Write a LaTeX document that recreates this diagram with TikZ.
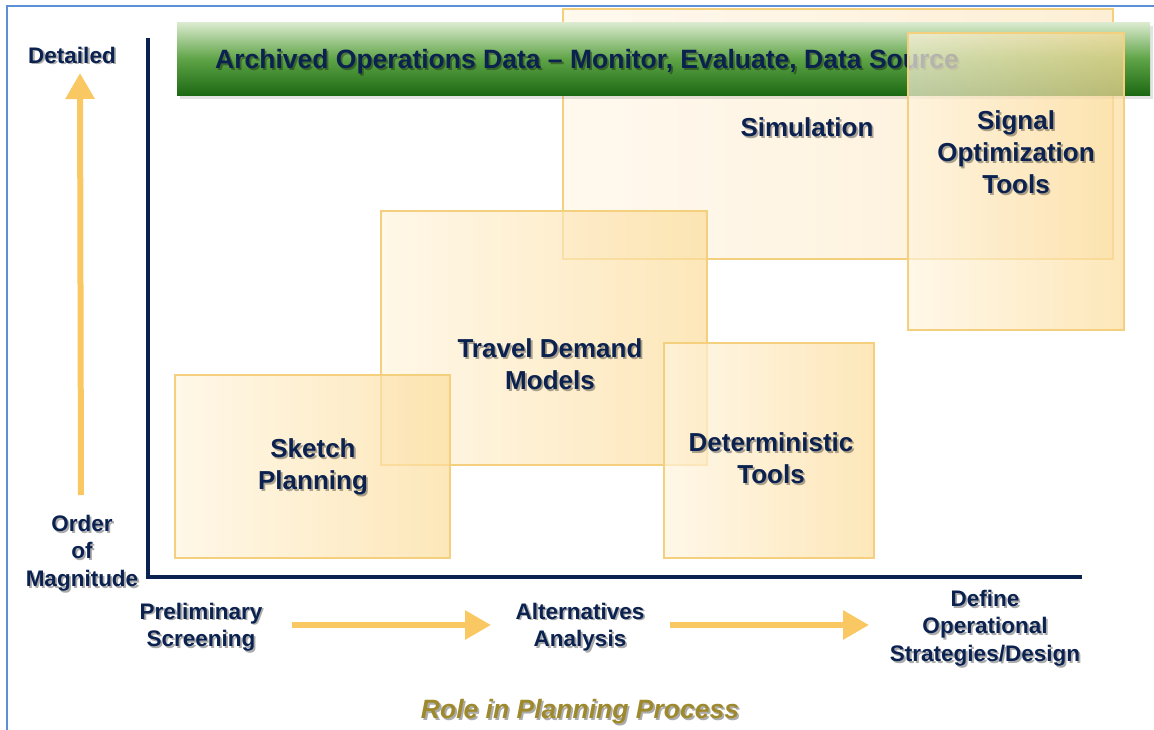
\documentclass[tikz,border=0pt]{standalone}
\usepackage{fontspec}
\setmainfont{Liberation Sans}
\usetikzlibrary{arrows.meta,shadows,calc}
\definecolor{navy}{HTML}{0B2250}
\definecolor{frameblue}{HTML}{5B8FD6}
\definecolor{arrowyel}{HTML}{F9C862}
\definecolor{boxedge}{HTML}{F3CF7E}
\definecolor{olive}{HTML}{9E8A2C}
\definecolor{gtop}{HTML}{DCEBD0}
\definecolor{gmid}{HTML}{5FA447}
\definecolor{gbot}{HTML}{1C6913}
\definecolor{boxlight}{HTML}{FFF4DE}
\definecolor{boxyel}{HTML}{FCDD9C}
\definecolor{boxpale}{HTML}{FFF7EA}
\definecolor{boxpale2}{HTML}{FDEBCB}
\tikzset{
  x=1pt, y=-1pt,
  lbl/.style={font=\bfseries\fontsize{26}{32}\selectfont, text=navy, align=center, inner sep=0pt},
  axlbl/.style={font=\bfseries\fontsize{22.5}{27.5}\selectfont, text=navy, align=center, inner sep=0pt},
  bannerlbl/.style={font=\bfseries\fontsize{26.5}{30}\selectfont, text=navy, anchor=west, inner sep=0pt},
  rolelbl/.style={font=\bfseries\itshape\fontsize{26.5}{30}\selectfont, text=olive, inner sep=0pt},
  shadowtext/.style={text=black, opacity=0.33},
  tool/.style={draw=boxedge, line width=1.3pt, fill opacity=0.7, left color=boxlight, right color=boxyel},
  flow/.style={draw=arrowyel, line width=6pt, -{Triangle[width=28pt,length=26pt]}},
  axis/.style={draw=navy, line width=4pt},
}
\newcommand{\shlabel}[4]{%
  \node[#1, shadowtext] at ($(#2)+(1.8,1.8)$) {#4};
  \node[#1] (#3) at (#2) {#4};}
\begin{document}
\begin{tikzpicture}
\useasboundingbox (0,0) rectangle (1154,730);
% frame
\draw[frameblue, line width=2pt] (7,730) |- (1154,6);
% axes
\coordinate (ytop) at (148,38);
\coordinate (origin) at (148,577);
\coordinate (xend) at (1082,577);
\draw[axis] (ytop) -- (origin) -- (xend);
% simulation box (behind banner)
\path[draw=boxedge, line width=1.3pt, fill opacity=0.8, left color=boxpale, right color=boxpale2] (563,9) rectangle (1113,259);
% banner
\node[drop shadow={opacity=0.22, shadow xshift=3pt, shadow yshift=-4pt}, top color=gtop, bottom color=gbot, middle color=gmid, minimum width=973pt, minimum height=73pt, anchor=north west, inner sep=0pt] (banner) at (177,22) {};
\shlabel{bannerlbl}{215,62}{bannertext}{Archived Operations Data -- Monitor, Evaluate, Data Source}
% signal optimization box (over banner)
\path[tool] (908,33) rectangle (1124,330);
% travel demand
\path[tool] (381,211) rectangle (707,465);
% sketch planning
\path[tool] (175,375) rectangle (450,558);
% deterministic
\path[tool] (664,343) rectangle (874,558);
% box labels
\shlabel{lbl}{807,127}{sim}{Simulation}
\shlabel{lbl}{1016,152}{sig}{Signal\\Optimization\\Tools}
\shlabel{lbl}{550,364}{tdm}{Travel Demand\\Models}
\shlabel{lbl}{313,467}{skp}{Sketch\\Planning}
\shlabel{lbl}{771,458}{det}{Deterministic\\Tools}
% y axis labels and arrow
\shlabel{axlbl}{72,55}{detailed}{Detailed}
\shlabel{axlbl}{82,553}{oom}{Order\\of\\Magnitude}
\coordinate (ua1) at (81,495);
\coordinate (ua2) at (80,73);
\draw[flow] (ua1) -- (ua2);
% x axis labels and arrows
\shlabel{axlbl}{201,627}{prelim}{Preliminary\\Screening}
\shlabel{axlbl}{580,627}{alt}{Alternatives\\Analysis}
\shlabel{axlbl}{985,628}{define}{Define\\Operational\\Strategies/Design}
\coordinate (a1s) at (292,625);
\coordinate (a1e) at (491,625);
\coordinate (a2s) at (670,625);
\coordinate (a2e) at (869,625);
\draw[flow] (a1s) -- (a1e);
\draw[flow] (a2s) -- (a2e);
% role
\shlabel{rolelbl}{580,712}{role}{Role in Planning Process}
\end{tikzpicture}
\end{document}
